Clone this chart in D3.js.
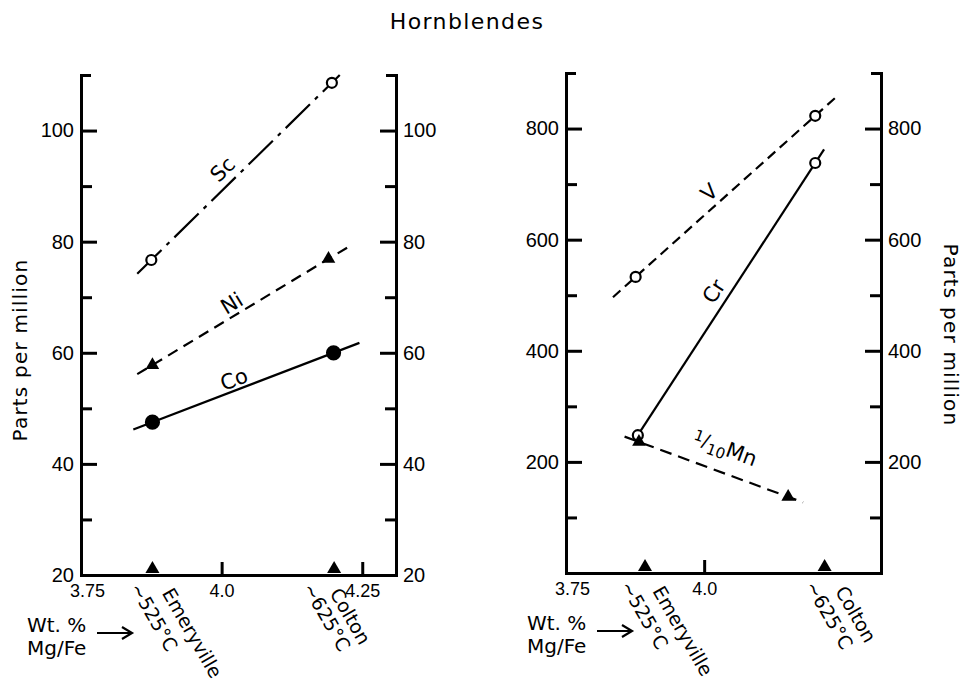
<!DOCTYPE html>
<html>
<head>
<meta charset="utf-8">
<script src="https://cdn.jsdelivr.net/npm/d3@7"></script>
<style>
  body { margin: 0; background: #fff; }
  svg { display: block; font-family: "DejaVu Sans", sans-serif; }
</style>
</head>
<body>
<svg width="970" height="685"></svg>
<script>
// sample sites, plotted by wt.% Mg/Fe
const sites = ["Emeryville", "Colton"];
const siteTemps = ["~525°C", "~625°C"];
const siteMgFeLeft = [3.877, 4.2];
const siteMgFeRight = [3.893, 4.218];

// left panel: Sc, Ni, Co (ppm)
const scMgFe = [3.875, 4.196], scPpm = [76.7, 108.6], scSpan = [3.85, 4.21];
const niMgFe = [3.877, 4.19],  niPpm = [57.8, 76.9],  niSpan = [3.85, 4.23];
const coMgFe = [3.877, 4.199], coPpm = [47.5, 60.0],  coSpan = [3.843, 4.245];

// right panel: V, Cr, 1/10 Mn (ppm)
const vMgFe  = [3.876, 4.201], vPpm  = [533, 823], vSpan  = [3.835, 4.237];
const crMgFe = [3.88, 4.201],  crPpm = [248, 738], crSpan = [3.88, 4.217];
const mnMgFe = [3.882, 4.152], mnPpm = [236, 137], mnSpan = [3.856, 4.179];

// tick values
const leftYTicks = [20, 40, 60, 80, 100];
const leftYMinor = [30, 50, 70, 90];
const rightYTicks = [200, 400, 600, 800];
const rightYMinor = [100, 300, 500, 700];
const leftXTicks = [3.75, 4.0, 4.25];
const rightXTicks = [3.75, 4.0];

const svg = d3.select("svg");

svg.append("text")
    .attr("x", 467).attr("y", 29)
    .attr("text-anchor", "middle")
    .attr("font-size", 22)
    .attr("letter-spacing", 1.4)
    .text("Hornblendes");

function drawPanel(p) {
    const g = svg.append("g");
    const x = p.x, y = p.y;
    const [x0, x1] = x.range();
    const yb = y.range()[0];

    // left axis, ticks pointing in
    g.append("g").attr("transform", `translate(${x0},0)`)
        .call(d3.axisLeft(y).tickValues(p.yTicks).tickSizeInner(-16).tickSizeOuter(-10)
            .tickPadding(7).tickFormat(p.yFmt))
        .call(a => a.selectAll("text").attr("font-size", 20));
    g.append("g").attr("transform", `translate(${x0},0)`)
        .call(d3.axisLeft(y).tickValues(p.yMinor).tickSizeInner(-11).tickSizeOuter(0).tickFormat(""))
        .call(a => a.select(".domain").remove());

    // right axis
    g.append("g").attr("transform", `translate(${x1},0)`)
        .call(d3.axisRight(y).tickValues(p.yTicksR).tickSizeInner(-16).tickSizeOuter(-10)
            .tickPadding(7).tickFormat(p.yFmt))
        .call(a => a.selectAll("text").attr("font-size", 20));
    g.append("g").attr("transform", `translate(${x1},0)`)
        .call(d3.axisRight(y).tickValues(p.yMinor).tickSizeInner(-11).tickSizeOuter(0).tickFormat(""))
        .call(a => a.select(".domain").remove());

    // bottom axis
    g.append("g").attr("transform", `translate(0,${yb})`)
        .call(d3.axisBottom(x).tickValues(p.xTicks).tickSizeInner(-13).tickSizeOuter(0)
            .tickPadding(6).tickFormat(d => d === 4 ? "4.0" : d))
        .call(a => a.selectAll("text").attr("font-size", 18).attr("dy", "0.9em"))
        .call(a => a.selectAll(".tick").filter(d => d === 3.75).select("line").remove())
        .call(a => a.selectAll(".tick text").filter(d => d === 3.75).attr("dx", 6));

    g.selectAll(".domain, .tick line").attr("stroke", "#000").attr("stroke-width", 3);
    g.selectAll(".tick text").attr("fill", "#000");

    // site markers on the Mg/Fe axis
    g.selectAll(".site").data(p.siteX).join("path")
        .attr("transform", d => `translate(${x(d)},${yb - 6})`)
        .attr("d", d3.symbol(d3.symbolTriangle, 85))
        .attr("fill", "#000");

    // series
    p.series.forEach(s => {
        const slope = (s.v[1] - s.v[0]) / (s.mx[1] - s.mx[0]);
        const at = t => s.v[0] + (t - s.mx[0]) * slope;
        g.append("path")
            .attr("d", d3.line()([[x(s.span[0]), y(at(s.span[0]))], [x(s.span[1]), y(at(s.span[1]))]]))
            .attr("fill", "none").attr("stroke", "#000").attr("stroke-width", 2.2)
            .attr("stroke-dasharray", s.dash);

        s.mx.forEach((mx, i) => {
            if (s.marker === "tri") {
                g.append("path")
                    .attr("transform", `translate(${x(mx)},${y(s.v[i])})`)
                    .attr("d", d3.symbol(d3.symbolTriangle, 80)).attr("fill", "#000");
            } else {
                g.append("circle").attr("cx", x(mx)).attr("cy", y(s.v[i]))
                    .attr("r", s.marker === "dot" ? 6.5 : 5)
                    .attr("fill", s.marker === "dot" ? "#000" : "#fff")
                    .attr("stroke", "#000").attr("stroke-width", 2.2);
            }
        });

        // label along the line
        const px = x(s.labelAt), py = y(at(s.labelAt));
        const ang = Math.atan2(y(at(s.mx[1])) - y(at(s.mx[0])), x(s.mx[1]) - x(s.mx[0]));
        const deg = ang * 180 / Math.PI;
        const lx = px + Math.sin(ang) * s.labelOff, ly = py - Math.cos(ang) * s.labelOff;
        const t = g.append("text")
            .attr("transform", `translate(${lx},${ly}) rotate(${deg})`)
            .attr("text-anchor", "middle").attr("dy", "0.35em")
            .attr("font-size", 21);
        if (s.name === "Mn") {
            t.append("tspan").attr("font-size", 15).attr("dy", "-0.1em").text("1");
            t.append("tspan").attr("font-size", 19).attr("dy", "0.2em").text("/");
            t.append("tspan").attr("font-size", 15).attr("dy", "0.35em").text("10");
            t.append("tspan").attr("dy", "-0.2em").text("Mn");
        } else {
            t.text(s.name);
        }
    });

    // site labels, rotated
    p.siteX.forEach((sx, i) => {
        const bx = x(sx);
        g.append("text")
            .attr("transform", `translate(${bx + p.tempDx[i]},${yb + 13}) rotate(60)`)
            .attr("font-size", 19).text(siteTemps[i]);
        g.append("text")
            .attr("transform", `translate(${bx + p.nameDx[i]},${yb + 18}) rotate(60)`)
            .attr("font-size", 19).text(sites[i]);
    });

    // Wt.% Mg/Fe note with arrow
    g.append("text").attr("x", p.noteX).attr("y", yb + 57).attr("font-size", 20).text("Wt. %");
    g.append("text").attr("x", p.noteX).attr("y", yb + 80).attr("font-size", 20).text("Mg/Fe");
    const ay = yb + 58;
    g.append("path")
        .attr("d", `M${p.noteX + 70},${ay}H${p.noteX + 104}M${p.noteX + 95},${ay - 6}L${p.noteX + 105},${ay}L${p.noteX + 95},${ay + 6}`)
        .attr("fill", "none").attr("stroke", "#000").attr("stroke-width", 2.2);
}

// left panel
drawPanel({
    x: d3.scaleLinear().domain([3.75, 4.31]).range([81, 396]),
    y: d3.scaleLinear().domain([20, 110]).range([575, 75]),
    yTicks: leftYTicks, yTicksR: leftYTicks, yMinor: leftYMinor,
    yFmt: d => d,
    xTicks: leftXTicks,
    siteX: siteMgFeLeft,
    tempDx: [-23, -32], nameDx: [9, -5],
    noteX: 27,
    series: [
        {name: "Sc", mx: scMgFe, v: scPpm, span: scSpan, dash: "34,7,4,7", marker: "open", labelAt: 4.02, labelOff: 15},
        {name: "Ni", mx: niMgFe, v: niPpm, span: niSpan, dash: "11,7", marker: "tri", labelAt: 4.029, labelOff: 12},
        {name: "Co", mx: coMgFe, v: coPpm, span: coSpan, dash: null, marker: "dot", labelAt: 4.029, labelOff: 11}
    ]
});

// right panel
drawPanel({
    x: d3.scaleLinear().domain([3.75, 4.32]).range([566, 881]),
    y: d3.scaleLinear().domain([0, 900]).range([573, 73]),
    yTicks: rightYTicks, yTicksR: rightYTicks, yMinor: rightYMinor,
    yFmt: d => d,
    xTicks: rightXTicks,
    siteX: siteMgFeRight,
    tempDx: [-25, -20], nameDx: [7, 10],
    noteX: 527,
    series: [
        {name: "V", mx: vMgFe, v: vPpm, span: vSpan, dash: "10,6", marker: "open", labelAt: 4.026, labelOff: 14},
        {name: "Cr", mx: crMgFe, v: crPpm, span: crSpan, dash: null, marker: "open", labelAt: 4.04, labelOff: 15},
        {name: "Mn", mx: mnMgFe, v: mnPpm, span: mnSpan, dash: "12,7", marker: "tri", labelAt: 4.023, labelOff: 20}
    ]
});

// axis titles
svg.append("text")
    .attr("transform", "translate(27,350) rotate(-90)")
    .attr("text-anchor", "middle").attr("font-size", 20).attr("letter-spacing", 1.2)
    .text("Parts per million");
svg.append("text")
    .attr("transform", "translate(944,335) rotate(90)")
    .attr("text-anchor", "middle").attr("font-size", 20).attr("letter-spacing", 1.2)
    .text("Parts per million");
</script>
</body>
</html>
